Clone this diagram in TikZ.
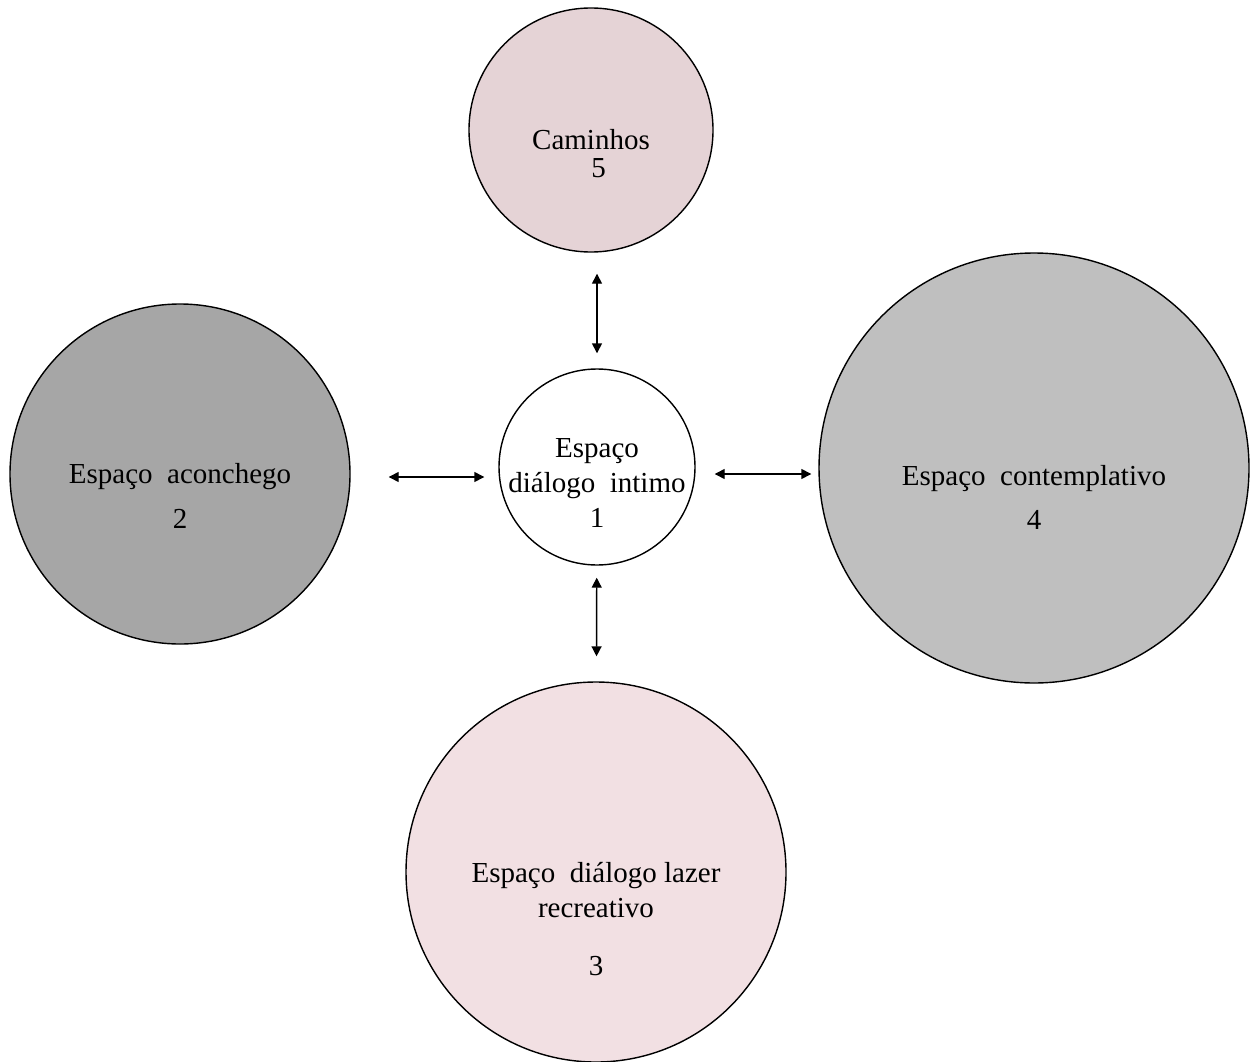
\documentclass[tikz,border=0pt]{standalone}
\usepackage{fontspec}
\setmainfont{Liberation Serif}
\usetikzlibrary{arrows.meta}
\definecolor{cinzaescuro}{RGB}{166,166,166}
\definecolor{cinzaclaro}{RGB}{191,191,191}
\definecolor{rosaescuro}{RGB}{229,211,214}
\definecolor{rosaclaro}{RGB}{242,224,227}
\begin{document}
\begin{tikzpicture}[
  zona/.style={circle, draw, line width=0.8pt, inner sep=0pt},
  rotulo/.style={align=center, font=\fontsize{16.5}{20}\selectfont},
  seta/.style={{Triangle[length=0.2cm,width=0.2cm]}-{Triangle[length=0.2cm,width=0.2cm]}, line width=0.8pt}]

  \useasboundingbox (0,0) rectangle (25.12,-21.22);

  \node[zona, fill=white, minimum size=3.92cm,
    label={[rotulo, yshift=-0.32cm]center:{Espaço\\diálogo\ \ intimo\\1}}] (intimo) at (11.94,-9.34) {};
  \node[zona, fill=rosaescuro, minimum size=4.88cm,
    label={[rotulo, yshift=-0.48cm]center:{Caminhos\\[-4pt]\hspace*{0.3cm}5}}] (caminhos) at (11.82,-2.60) {};
  \node[zona, fill=cinzaescuro, minimum size=6.8cm,
    label={[rotulo, yshift=-0.44cm]center:{Espaço\ \ aconchego\\[6pt]2}}] (aconchego) at (3.60,-9.48) {};
  \node[zona, fill=cinzaclaro, minimum size=8.6cm,
    label={[rotulo, yshift=-0.58cm]center:{Espaço\ \ contemplativo\\[5pt]4}}] (contemplativo) at (20.68,-9.36) {};
  \node[zona, fill=rosaclaro, minimum size=7.6cm,
    label={[rotulo, yshift=-0.94cm]center:{Espaço\ \ diálogo\ lazer\\recreativo\\[13pt]3}}] (lazer) at (11.92,-17.44) {};

  \draw[seta, shorten <=0.42cm, shorten >=0.3cm] (intimo |- caminhos.south) -- (intimo.north);
  \draw[seta, shorten <=0.76cm, shorten >=0.28cm] ([yshift=-0.06cm]aconchego.east) -- ([yshift=-0.06cm]aconchego.east -| intimo.west);
  \draw[seta, shorten <=0.38cm, shorten >=0.14cm] ([yshift=-0.14cm]intimo.east) -- ([yshift=-0.14cm]intimo.east -| contemplativo.west);
  \draw[seta, shorten <=0.24cm, shorten >=0.5cm] (intimo) -- (lazer);
\end{tikzpicture}
\end{document}
